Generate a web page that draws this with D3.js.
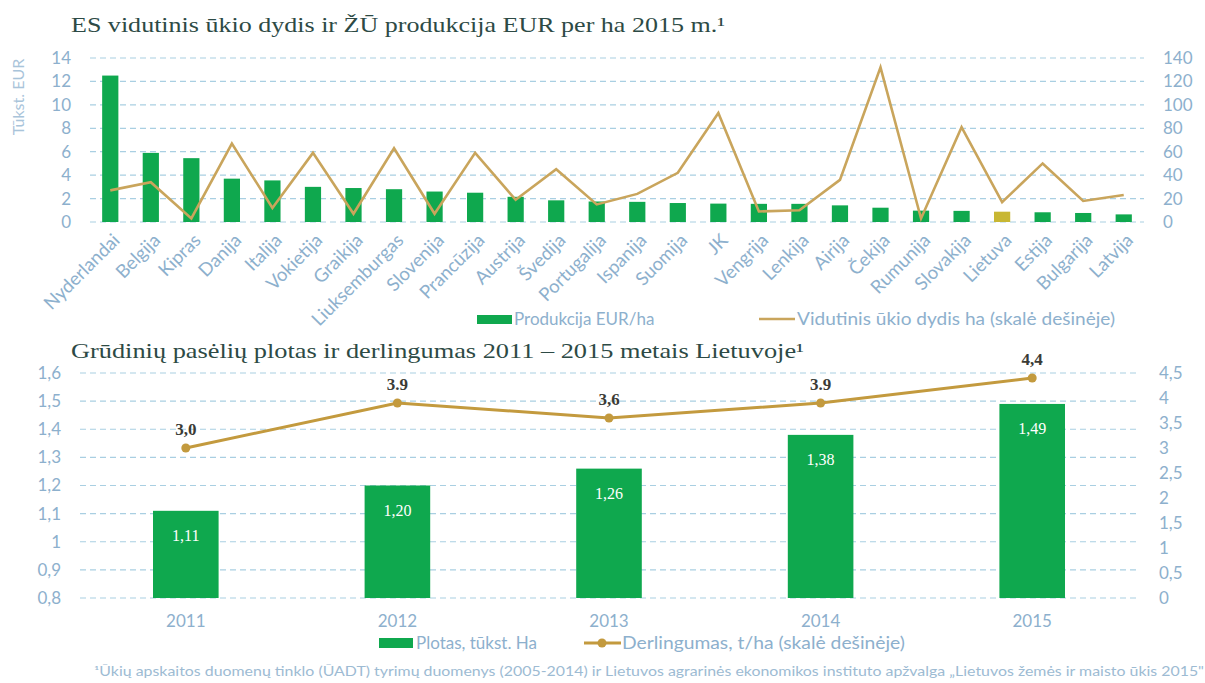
<!DOCTYPE html>
<html>
<head>
<meta charset="utf-8">
<script src="https://cdn.jsdelivr.net/npm/d3@7"></script>
<style>
  body { margin: 0; background: #fff; }
  svg text { font-family: Lato, "Open Sans", sans-serif; }
</style>
</head>
<body>
<script>
// top chart data
const countries = ["Nyderlandai", "Belgija", "Kipras", "Danija", "Italija", "Vokietija", "Graikija",
  "Liuksemburgas", "Slovenija", "Prancūzija", "Austrija", "Švedija", "Portugalija", "Ispanija",
  "Suomija", "JK", "Vengrija", "Lenkija", "Airija", "Čekija", "Rumunija", "Slovakija", "Lietuva",
  "Estija", "Bulgarija", "Latvija"];
const production = [12.5, 5.9, 5.45, 3.7, 3.55, 3.0, 2.9, 2.8, 2.6, 2.5, 2.15, 1.85, 1.75, 1.72,
  1.62, 1.57, 1.55, 1.55, 1.42, 1.22, 0.97, 0.95, 0.88, 0.83, 0.77, 0.65];
const farmSize = [27, 34, 3, 67, 12, 59, 7, 63, 7, 59, 19, 45, 15, 24, 42, 93, 9, 10, 36, 132, 3,
  81, 17, 50, 18, 23];
const highlighted = "Lietuva";
const leftTicksTop = [0, 2, 4, 6, 8, 10, 12, 14];
const rightTicksTop = [0, 20, 40, 60, 80, 100, 120, 140];

// bottom chart data
const years = ["2011", "2012", "2013", "2014", "2015"];
const area = [1.11, 1.20, 1.26, 1.38, 1.49];
const areaLabels = ["1,11", "1,20", "1,26", "1,38", "1,49"];
const yieldTha = [3.0, 3.9, 3.6, 3.9, 4.4];
const yieldLabels = ["3,0", "3.9", "3,6", "3.9", "4,4"];
const leftTicksBottom = [0.8, 0.9, 1, 1.1, 1.2, 1.3, 1.4, 1.5, 1.6];
const rightTicksBottom = [0, 0.5, 1, 1.5, 2, 2.5, 3, 3.5, 4, 4.5];

const green = "#0fa84e";
const gold = "#c9a55c";
const goldDark = "#c39a3e";
const axisBlue = "#8db0cd";
const gridBlue = "#a9cfe2";
const titleColor = "#2d4a45";
const serif = "'Liberation Serif', 'DejaVu Serif', serif";
const comma = d => String(d).replace(".", ",");

const svg = d3.select("body").append("svg")
  .attr("width", 1205)
  .attr("height", 683);

function styleAxis(g, size) {
  g.select(".domain").remove();
  g.selectAll("text")
    .attr("fill", axisBlue)
    .style("font-size", size + "px");
}

// ---------- top chart ----------
svg.append("text")
  .attr("x", 71).attr("y", 32)
  .attr("fill", titleColor)
  .attr("textLength", 654).attr("lengthAdjust", "spacingAndGlyphs")
  .style("font-family", serif).style("font-size", "22px")
  .text("ES vidutinis ūkio dydis ir ŽŪ produkcija EUR per ha 2015 m.¹");

const x1 = d3.scaleBand(countries, [90, 1144]).paddingInner(0.6).paddingOuter(0.3);
const y1 = d3.scaleLinear([0, 14], [222, 58]);
const y1r = d3.scaleLinear([0, 140], [222, 58]);

svg.append("g").selectAll("line")
  .data(leftTicksTop)
  .join("line")
  .attr("x1", 90).attr("x2", 1144)
  .attr("y1", d => y1(d)).attr("y2", d => y1(d))
  .attr("stroke", gridBlue).attr("stroke-width", 1.2)
  .attr("stroke-dasharray", "6,4");

svg.append("g").selectAll("rect")
  .data(countries)
  .join("rect")
  .attr("x", d => x1(d))
  .attr("width", x1.bandwidth())
  .attr("y", (d, i) => y1(production[i]))
  .attr("height", (d, i) => y1(0) - y1(production[i]))
  .attr("fill", d => d === highlighted ? "#c8b733" : green);

const line1 = d3.line()
  .x((d, i) => x1(countries[i]) + x1.bandwidth() / 2)
  .y(d => y1r(d));

svg.append("path")
  .datum(farmSize)
  .attr("d", line1)
  .attr("fill", "none")
  .attr("stroke", gold)
  .attr("stroke-width", 2.6)
  .attr("stroke-linejoin", "miter");

svg.append("g")
  .attr("transform", "translate(73,0)")
  .call(d3.axisLeft(y1).tickValues(leftTicksTop).tickSize(0).tickPadding(2))
  .call(g => styleAxis(g, 17));

svg.append("g")
  .attr("transform", "translate(1160,0)")
  .call(d3.axisRight(y1r).tickValues(rightTicksTop).tickSize(0).tickPadding(3))
  .call(g => styleAxis(g, 17));

svg.append("text")
  .attr("transform", "translate(24,97) rotate(-90)")
  .attr("text-anchor", "middle")
  .attr("fill", "#a9c4da")
  .style("font-size", "16px")
  .text("Tūkst. EUR");

svg.append("g")
  .attr("transform", "translate(0,222)")
  .call(d3.axisBottom(x1).tickSize(0))
  .call(g => styleAxis(g, 18.5))
  .call(g => g.selectAll("text")
    .attr("x", 0).attr("y", 0).attr("dy", "0.35em")
    .attr("text-anchor", "end")
    .attr("transform", "translate(6,15) rotate(-45)"));

// legend top
svg.append("rect")
  .attr("x", 477).attr("y", 315).attr("width", 35).attr("height", 9)
  .attr("fill", green);
svg.append("text")
  .attr("x", 514).attr("y", 325)
  .attr("fill", axisBlue).style("font-size", "17px")
  .text("Produkcija EUR/ha");
svg.append("line")
  .attr("x1", 759).attr("x2", 795).attr("y1", 319).attr("y2", 319)
  .attr("stroke", gold).attr("stroke-width", 2.6);
svg.append("text")
  .attr("x", 797).attr("y", 325)
  .attr("fill", axisBlue).style("font-size", "17px")
  .attr("textLength", 318).attr("lengthAdjust", "spacingAndGlyphs")
  .text("Vidutinis ūkio dydis ha (skalė dešinėje)");

// ---------- bottom chart ----------
svg.append("text")
  .attr("x", 71).attr("y", 358)
  .attr("fill", titleColor)
  .attr("textLength", 733).attr("lengthAdjust", "spacingAndGlyphs")
  .style("font-family", serif).style("font-size", "21px")
  .text("Grūdinių pasėlių plotas ir derlingumas 2011 – 2015 metais Lietuvoje¹");

const x2 = d3.scaleBand(years, [80, 1138]).paddingInner(0.69).paddingOuter(0.345);
const y2 = d3.scaleLinear([0.8, 1.6], [598, 373]);
const y2r = d3.scaleLinear([0, 4.5], [598, 373]);

svg.append("g").selectAll("line")
  .data(leftTicksBottom)
  .join("line")
  .attr("x1", 80).attr("x2", 1138)
  .attr("y1", d => y2(d)).attr("y2", d => y2(d))
  .attr("stroke", gridBlue).attr("stroke-width", 1.2)
  .attr("stroke-dasharray", "6,4");

svg.append("g").selectAll("rect")
  .data(years)
  .join("rect")
  .attr("x", d => x2(d))
  .attr("width", x2.bandwidth())
  .attr("y", (d, i) => y2(area[i]))
  .attr("height", (d, i) => y2(0.8) - y2(area[i]))
  .attr("fill", green);

svg.append("g").selectAll("text")
  .data(years)
  .join("text")
  .attr("x", d => x2(d) + x2.bandwidth() / 2)
  .attr("y", (d, i) => y2(area[i]) + 30)
  .attr("text-anchor", "middle")
  .attr("fill", "#fff")
  .style("font-family", serif).style("font-size", "16px")
  .text((d, i) => areaLabels[i]);

const line2 = d3.line()
  .x((d, i) => x2(years[i]) + x2.bandwidth() / 2)
  .y(d => y2r(d));

svg.append("path")
  .datum(yieldTha)
  .attr("d", line2)
  .attr("fill", "none")
  .attr("stroke", goldDark)
  .attr("stroke-width", 3);

svg.append("g").selectAll("circle")
  .data(yieldTha)
  .join("circle")
  .attr("cx", (d, i) => x2(years[i]) + x2.bandwidth() / 2)
  .attr("cy", d => y2r(d))
  .attr("r", 4.5)
  .attr("fill", goldDark);

svg.append("g").selectAll("text")
  .data(yieldTha)
  .join("text")
  .attr("x", (d, i) => x2(years[i]) + x2.bandwidth() / 2)
  .attr("y", d => y2r(d) - 13)
  .attr("text-anchor", "middle")
  .attr("fill", "#3b3b36")
  .style("font-family", serif).style("font-size", "17px").style("font-weight", "bold")
  .text((d, i) => yieldLabels[i]);

svg.append("g")
  .attr("transform", "translate(63,0)")
  .call(d3.axisLeft(y2).tickValues(leftTicksBottom).tickSize(0).tickPadding(2).tickFormat(comma))
  .call(g => styleAxis(g, 17));

svg.append("g")
  .attr("transform", "translate(1156,0)")
  .call(d3.axisRight(y2r).tickValues(rightTicksBottom).tickSize(0).tickPadding(3).tickFormat(comma))
  .call(g => styleAxis(g, 17));

svg.append("g")
  .attr("transform", "translate(0,598)")
  .call(d3.axisBottom(x2).tickSize(0).tickPadding(17))
  .call(g => styleAxis(g, 17));

// legend bottom
svg.append("rect")
  .attr("x", 379).attr("y", 638).attr("width", 34).attr("height", 10)
  .attr("fill", green);
svg.append("text")
  .attr("x", 416).attr("y", 649)
  .attr("fill", axisBlue).style("font-size", "17px")
  .text("Plotas, tūkst. Ha");
svg.append("line")
  .attr("x1", 584).attr("x2", 621).attr("y1", 643).attr("y2", 643)
  .attr("stroke", goldDark).attr("stroke-width", 3);
svg.append("circle")
  .attr("cx", 602).attr("cy", 643).attr("r", 4.5)
  .attr("fill", goldDark);
svg.append("text")
  .attr("x", 622).attr("y", 649)
  .attr("fill", axisBlue).style("font-size", "17px")
  .attr("textLength", 283).attr("lengthAdjust", "spacingAndGlyphs")
  .text("Derlingumas, t/ha (skalė dešinėje)");

// footnote
svg.append("text")
  .attr("x", 94).attr("y", 676)
  .attr("fill", "#9dbbd3").style("font-size", "12.5px")
  .attr("textLength", 1110).attr("lengthAdjust", "spacingAndGlyphs")
  .text("¹Ūkių apskaitos duomenų tinklo (ŪADT) tyrimų duomenys (2005-2014) ir Lietuvos agrarinės ekonomikos instituto apžvalga „Lietuvos žemės ir maisto ūkis 2015\"");
</script>
</body>
</html>
